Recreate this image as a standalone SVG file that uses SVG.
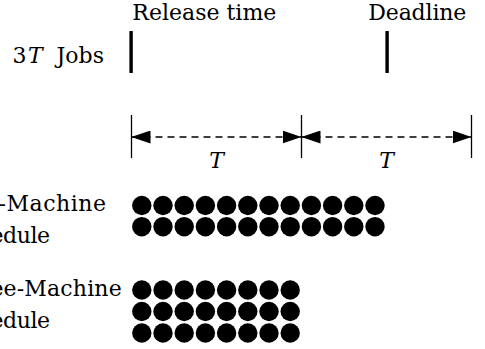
<svg xmlns="http://www.w3.org/2000/svg" width="485" height="349" viewBox="0 0 485 349">
<style>
  .txt { font-family: "DejaVu Serif", "Liberation Serif", serif; font-size: 22px; fill: #000; }
  .it { font-style: italic; }
  .bar { fill: #000; }
  .tick { stroke: #000; stroke-width: 1.3; fill: none; }
  .dim { stroke: #000; stroke-width: 1.5; stroke-dasharray: 7 5; fill: none; }
  .job { fill: #000; }
</style>
<defs>
  <marker id="ah" markerUnits="userSpaceOnUse" markerWidth="19" markerHeight="13" refX="19" refY="6.5" orient="auto-start-reverse">
    <path d="M0,0 L19,6.5 L0,13 Z" fill="#000" stroke="none"/>
  </marker>
  <circle id="dot" r="9.7"/>
</defs>

<g class="txt" font-family="'DejaVu Serif', 'Liberation Serif', serif" font-size="22" fill="#000">
<g id="labels">
  <text x="132.3" y="20" textLength="144" lengthAdjust="spacing">Release time</text>
  <text x="368.3" y="20" textLength="98" lengthAdjust="spacing">Deadline</text>
  <text y="63.3"><tspan x="12.5">3</tspan><tspan class="it" font-style="italic" x="28">T</tspan><tspan x="56.5">Jobs</tspan></text>
</g>

<g id="period-labels">
  <text class="it" font-style="italic" x="216.5" y="168" text-anchor="middle">T</text>
  <text class="it" font-style="italic" x="386.5" y="168" text-anchor="middle">T</text>
</g>

<g id="two-machine-label">
  <text x="-49" y="211" textLength="155" lengthAdjust="spacing">Two-Machine</text>
  <text x="-49.7" y="242.5" textLength="99.7" lengthAdjust="spacing">Schedule</text>
</g>

<g id="three-machine-label">
  <text x="-49.5" y="296" textLength="171.2" lengthAdjust="spacing">Three-Machine</text>
  <text x="-49.7" y="327.5" textLength="99.7" lengthAdjust="spacing">Schedule</text>
</g>
</g>

<g id="release-bar"><rect class="bar" x="129.4" y="31" width="3.4" height="42"/></g>
<g id="deadline-bar"><rect class="bar" x="385.4" y="31" width="3.4" height="42"/></g>

<g id="ticks">
  <line class="tick" x1="131.5" y1="115" x2="131.5" y2="158"/>
  <line class="tick" x1="301.5" y1="115" x2="301.5" y2="158"/>
  <line class="tick" x1="471.5" y1="115" x2="471.5" y2="158"/>
</g>

<g id="connectors">
  <line class="dim" x1="131.5" y1="137" x2="301.5" y2="137" marker-start="url(#ah)" marker-end="url(#ah)"/>
  <line class="dim" x1="301.5" y1="137" x2="471.5" y2="137" marker-start="url(#ah)" marker-end="url(#ah)"/>
</g>

<g id="two-machine-jobs" class="job">
  <use href="#dot" x="141.8" y="205.5"/><use href="#dot" x="163" y="205.5"/><use href="#dot" x="184.2" y="205.5"/><use href="#dot" x="205.4" y="205.5"/><use href="#dot" x="226.6" y="205.5"/><use href="#dot" x="247.8" y="205.5"/><use href="#dot" x="269" y="205.5"/><use href="#dot" x="290.2" y="205.5"/><use href="#dot" x="311.4" y="205.5"/><use href="#dot" x="332.6" y="205.5"/><use href="#dot" x="353.8" y="205.5"/><use href="#dot" x="375" y="205.5"/>
  <use href="#dot" x="141.8" y="226.7"/><use href="#dot" x="163" y="226.7"/><use href="#dot" x="184.2" y="226.7"/><use href="#dot" x="205.4" y="226.7"/><use href="#dot" x="226.6" y="226.7"/><use href="#dot" x="247.8" y="226.7"/><use href="#dot" x="269" y="226.7"/><use href="#dot" x="290.2" y="226.7"/><use href="#dot" x="311.4" y="226.7"/><use href="#dot" x="332.6" y="226.7"/><use href="#dot" x="353.8" y="226.7"/><use href="#dot" x="375" y="226.7"/>
</g>

<g id="three-machine-jobs" class="job">
  <use href="#dot" x="141.8" y="290"/><use href="#dot" x="163" y="290"/><use href="#dot" x="184.2" y="290"/><use href="#dot" x="205.4" y="290"/><use href="#dot" x="226.6" y="290"/><use href="#dot" x="247.8" y="290"/><use href="#dot" x="269" y="290"/><use href="#dot" x="290.2" y="290"/>
  <use href="#dot" x="141.8" y="311.5"/><use href="#dot" x="163" y="311.5"/><use href="#dot" x="184.2" y="311.5"/><use href="#dot" x="205.4" y="311.5"/><use href="#dot" x="226.6" y="311.5"/><use href="#dot" x="247.8" y="311.5"/><use href="#dot" x="269" y="311.5"/><use href="#dot" x="290.2" y="311.5"/>
  <use href="#dot" x="141.8" y="333"/><use href="#dot" x="163" y="333"/><use href="#dot" x="184.2" y="333"/><use href="#dot" x="205.4" y="333"/><use href="#dot" x="226.6" y="333"/><use href="#dot" x="247.8" y="333"/><use href="#dot" x="269" y="333"/><use href="#dot" x="290.2" y="333"/>
</g>
</svg>
